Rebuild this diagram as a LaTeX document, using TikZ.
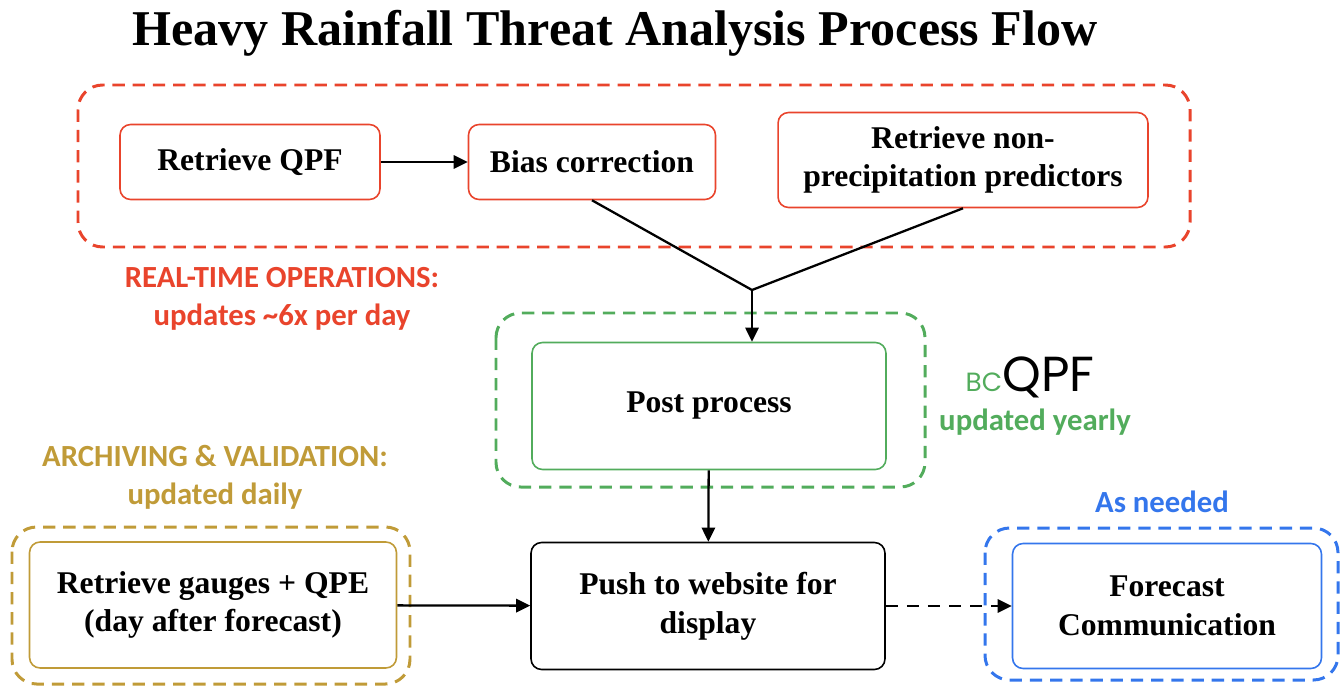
\documentclass[tikz,border=0pt]{standalone}
\usepackage{fontspec}
\setmainfont{Liberation Serif}
\newfontfamily\labelfont{Carlito}
\newfontfamily\tagfont{Poppins}
\usetikzlibrary{arrows.meta,positioning}
\definecolor{opsred}{RGB}{233,68,44}
\definecolor{postgreen}{RGB}{82,172,92}
\definecolor{archgold}{RGB}{192,155,56}
\definecolor{needblue}{RGB}{52,118,236}

\begin{document}
\begin{tikzpicture}[
  x=0.02cm, y=-0.02cm,
  font=\bfseries\fontsize{18}{22}\selectfont,
  task/.style={draw, rounded corners=6pt, align=center, line width=0.9pt, fill=white},
  grp/.style={dash pattern=on 7pt off 4.5pt, line width=1.7pt, rounded corners=14pt},
  note/.style={font=\labelfont\bfseries\fontsize{17.5}{21.5}\selectfont, align=center},
  arr/.style={-{Triangle[length=8pt,width=7.5pt]}, line width=1.3pt}
]
\useasboundingbox (0,0) rectangle (1343,687);
\node[font=\bfseries\fontsize{28.5}{32}\selectfont] (title) at (615,33) {Heavy Rainfall Threat Analysis Process Flow};

% real-time operations
\draw[grp, opsred] (78,85) rectangle (1190,247);
\node[task, draw=opsred, minimum width=5.2cm, minimum height=1.5cm] (qpf) at (250,162) {Retrieve QPF};
\node[task, draw=opsred, minimum width=4.94cm, minimum height=1.5cm] (bias) at (592,162) {Bias correction};
\node[task, draw=opsred, minimum width=7.4cm, minimum height=1.9cm] (nonprecip) at (963,160) {Retrieve non-\\precipitation predictors};
\node[note, text=opsred] (opslbl) at (282,299) {REAL-TIME OPERATIONS:\\updates \textasciitilde 6x per day};

% post processing
\draw[grp, postgreen] (496,313) rectangle (925,487);
\node[task, draw=postgreen, minimum width=7.08cm, minimum height=2.54cm] (post) at (709,406) {Post process};
\node[font=\tagfont\mdseries\fontsize{28}{28}\selectfont, inner sep=0pt] (bcqpf) at (1030,377) {{\color{postgreen}\fontsize{15}{15}\selectfont BC}QPF};
\node[note, text=postgreen] (yearly) at (1035,422) {updated yearly};

% archiving and validation
\node[note, text=archgold] (archlbl) at (215,477) {ARCHIVING \& VALIDATION:\\updated daily};
\draw[grp, archgold] (12,527) rectangle (410,684);
\node[task, draw=archgold, minimum width=7.34cm, minimum height=2.52cm] (gauges) at (213,605) {Retrieve gauges + QPE\\(day after forecast)};

% display and communication
\node[task, draw=black, minimum width=7.08cm, minimum height=2.54cm] (push) at (708,606) {Push to website for\\display};
\node[note, text=needblue] (needlbl) at (1162,502) {As needed};
\draw[grp, needblue] (985,528) rectangle (1338,680);
\node[task, draw=needblue, minimum width=6.18cm, minimum height=2.5cm] (forecast) at (1167,606) {Forecast\\Communication};

% connectors
\coordinate (merge) at (752,290);
\draw[arr] (qpf) -- (bias);
\draw[line width=1.3pt] (bias.south) -- (merge) -- (nonprecip.south);
\draw[arr] (merge) -- (merge |- post.north);
\draw[arr] (post) -- (push);
\draw[arr] (gauges) -- (push);
\draw[arr, dash pattern=on 7pt off 5pt] (push) -- (forecast);
\end{tikzpicture}
\end{document}
